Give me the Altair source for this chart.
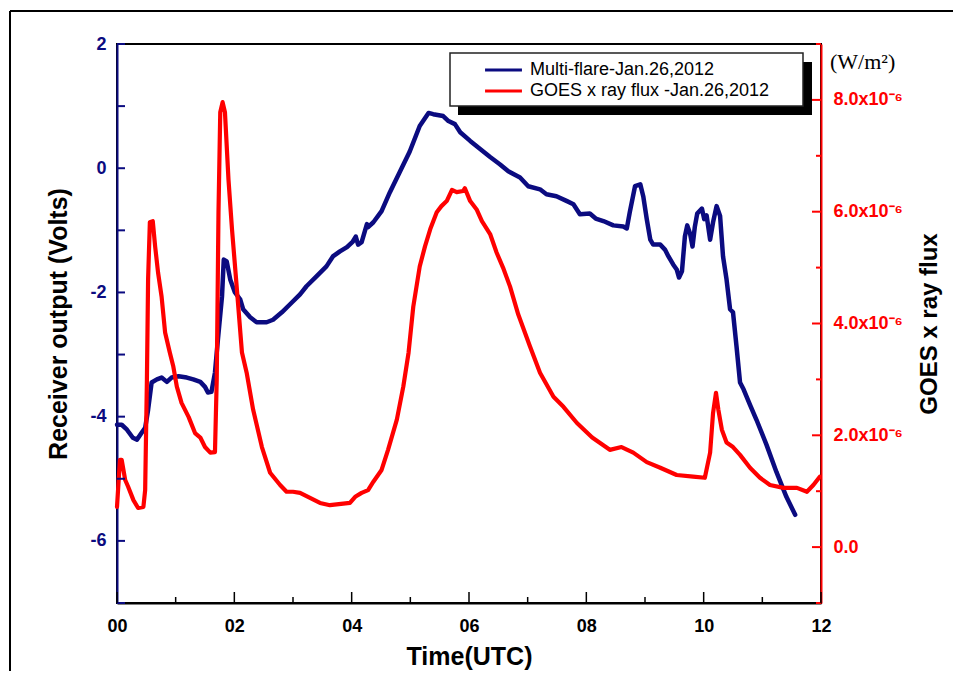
import altair as alt
import pandas as pd

# ---------------- data ----------------
# Receiver output (Volts) vs time (UTC hours)
blue_t = [0.00, 0.08, 0.17, 0.27, 0.34, 0.42, 0.48, 0.53, 0.59, 0.68,
          0.76, 0.85, 0.93, 1.05, 1.19, 1.30, 1.42, 1.50, 1.55, 1.61,
          1.67, 1.72, 1.79, 1.82, 1.87, 1.93, 2.01, 2.10, 2.15, 2.27,
          2.38, 2.55, 2.66, 2.81, 2.95, 3.12, 3.23, 3.40, 3.57, 3.68,
          3.80, 3.92, 4.02, 4.07, 4.11, 4.17, 4.26, 4.28, 4.37, 4.51,
          4.65, 4.82, 4.99, 5.16, 5.31, 5.39, 5.56, 5.65, 5.76, 5.85,
          6.02, 6.19, 6.36, 6.53, 6.67, 6.87, 7.01, 7.21, 7.32, 7.49,
          7.67, 7.78, 7.89, 8.06, 8.16, 8.29, 8.46, 8.63, 8.69, 8.74,
          8.83, 8.92, 8.97, 9.03, 9.09, 9.14, 9.26, 9.34, 9.40, 9.48,
          9.54, 9.58, 9.63, 9.68, 9.72, 9.77, 9.81, 9.85, 9.89, 9.97,
          10.01, 10.05, 10.11, 10.16, 10.22, 10.28, 10.33, 10.39, 10.45, 10.50,
          10.56, 10.62, 10.68, 10.79, 10.90, 11.07, 11.24, 11.41, 11.56]
blue_v = [-4.13, -4.13, -4.21, -4.34, -4.37, -4.26, -4.18, -3.89, -3.45, -3.40,
          -3.37, -3.44, -3.37, -3.35, -3.37, -3.40, -3.44, -3.52, -3.61, -3.60,
          -3.29, -2.76, -2.06, -1.47, -1.50, -1.79, -2.00, -2.11, -2.27, -2.40,
          -2.48, -2.48, -2.44, -2.32, -2.19, -2.03, -1.90, -1.74, -1.58, -1.42,
          -1.34, -1.27, -1.18, -1.10, -1.23, -1.19, -0.90, -0.95, -0.87, -0.69,
          -0.39, -0.06, 0.27, 0.68, 0.89, 0.87, 0.84, 0.76, 0.71, 0.58,
          0.44, 0.31, 0.18, 0.06, -0.05, -0.15, -0.29, -0.34, -0.42, -0.45,
          -0.53, -0.58, -0.74, -0.73, -0.81, -0.85, -0.92, -0.94, -0.97, -0.71,
          -0.29, -0.26, -0.45, -0.82, -1.15, -1.23, -1.23, -1.31, -1.42, -1.55,
          -1.63, -1.76, -1.66, -1.10, -0.92, -1.06, -1.26, -0.94, -0.73, -0.65,
          -0.82, -0.76, -1.15, -0.87, -0.61, -0.77, -1.42, -1.79, -2.27, -2.32,
          -2.87, -3.45, -3.56, -3.81, -4.05, -4.45, -4.89, -5.29, -5.58]

# GOES x ray flux, in units of 1e-6 W/m^2
red_t = [0.00, 0.05, 0.08, 0.14, 0.19, 0.28, 0.36, 0.45, 0.48, 0.51,
         0.53, 0.56, 0.61, 0.65, 0.70, 0.76, 0.82, 0.90, 0.96, 1.02,
         1.10, 1.22, 1.33, 1.42, 1.50, 1.59, 1.67, 1.70, 1.73, 1.76,
         1.80, 1.84, 1.90, 1.96, 2.04, 2.13, 2.21, 2.32, 2.47, 2.61,
         2.78, 2.89, 3.00, 3.12, 3.29, 3.46, 3.63, 3.97, 4.06, 4.17,
         4.28, 4.37, 4.51, 4.62, 4.77, 4.88, 4.97, 5.05, 5.16, 5.25,
         5.34, 5.45, 5.53, 5.62, 5.71, 5.79, 5.90, 5.93, 6.02, 6.13,
         6.22, 6.36, 6.47, 6.58, 6.70, 6.84, 7.04, 7.21, 7.44, 7.61,
         7.84, 8.10, 8.40, 8.60, 8.80, 9.03, 9.26, 9.54, 9.82, 10.02,
         10.11, 10.16, 10.21, 10.25, 10.31, 10.39, 10.50, 10.62, 10.79, 10.96,
         11.13, 11.36, 11.59, 11.76, 11.87, 11.98]
red_f = [0.72, 1.56, 1.56, 1.20, 1.08, 0.84, 0.70, 0.72, 1.02, 3.00,
         4.79, 5.81, 5.83, 5.38, 4.91, 4.48, 3.84, 3.48, 3.23, 2.87,
         2.58, 2.33, 2.04, 1.96, 1.79, 1.69, 1.70, 3.00, 5.99, 7.78,
         7.96, 7.78, 6.58, 5.69, 4.66, 3.48, 3.12, 2.46, 1.79, 1.33,
         1.11, 0.99, 0.99, 0.97, 0.88, 0.79, 0.75, 0.79, 0.90, 0.97,
         1.02, 1.17, 1.38, 1.74, 2.28, 2.87, 3.48, 4.30, 5.02, 5.38,
         5.69, 5.99, 6.10, 6.19, 6.39, 6.35, 6.37, 6.42, 6.19, 6.04,
         5.83, 5.60, 5.27, 5.00, 4.66, 4.16, 3.59, 3.12, 2.69, 2.51,
         2.22, 1.96, 1.74, 1.79, 1.69, 1.52, 1.42, 1.29, 1.26, 1.24,
         1.69, 2.40, 2.76, 2.46, 2.10, 1.87, 1.79, 1.65, 1.42, 1.24,
         1.11, 1.06, 1.06, 0.99, 1.11, 1.26]

x_major = [0, 2, 4, 6, 8, 10, 12]
x_minor = [1, 3, 5, 7, 9, 11]
volt_labels = [-6, -4, -2, 0, 2]
volt_ticks = [-7, -6, -5, -4, -3, -2, -1, 0, 1, 2]
flux_major = [0, 2, 4, 6, 8]
flux_minor = [-1, 1, 3, 5, 7, 9]

BLUE_NAME = "Multi-flare-Jan.26,2012"
RED_NAME = "GOES x ray flux -Jan.26,2012"
UNIT_TEXT = "(W/m²)"

# ---------------- styling ----------------
NAVY = "#0b0b80"
RED = "#ff0000"
W, H = 704, 559
SANS = "Liberation Sans, Arial, sans-serif"

blue_df = pd.DataFrame({"t": blue_t, "v": blue_v, "series": BLUE_NAME})
red_df = pd.DataFrame({"t": red_t, "f": red_f, "series": RED_NAME})
one = pd.DataFrame({"a": [0]})

xscale = alt.Scale(domain=[0, 12], nice=False, zero=False)
vscale = alt.Scale(domain=[-7, 2], nice=False, zero=False)
fscale = alt.Scale(domain=[-1, 9], nice=False, zero=False)
cscale = alt.Scale(domain=[BLUE_NAME, RED_NAME], range=[NAVY, RED])

legend = alt.Legend(
    title=None, orient="none", legendX=376, legendY=15.5, padding=0,
    symbolType="M-2.05,0H2.05", symbolSize=324, symbolStrokeWidth=3,
    labelFont=SANS, labelFontSize=18, labelColor="black",
    labelOffset=16, rowPadding=1, labelLimit=400,
)

x_axis = alt.Axis(
    orient="bottom", values=x_major,
    labelExpr="datum.value < 10 ? '0' + datum.value : '' + datum.value",
    ticks=False, tickSize=0, labelPadding=14, labelFlush=False, labelOverlap=False,
    labelFont=SANS, labelFontSize=18, labelFontWeight="bold", labelColor="black",
    domainColor="black", domainWidth=2, grid=False,
    title="Time(UTC)", titleFont=SANS, titleFontSize=25, titleFontWeight="bold",
    titleColor="black", titlePadding=9,
)

v_axis = alt.Axis(
    orient="left", values=volt_labels, labelExpr="'' + datum.value",
    ticks=False, tickSize=0, labelPadding=11, labelFlush=False, labelOverlap=False,
    labelFont=SANS, labelFontSize=18, labelFontWeight="bold", labelColor=NAVY,
    domainColor=NAVY, domainWidth=2, grid=False,
    title="Receiver output (Volts)", titleFont=SANS, titleFontSize=25,
    titleFontWeight="bold", titleColor="black", titlePadding=18,
)

f_axis = alt.Axis(
    orient="right", values=flux_major,
    labelExpr="datum.value == 0 ? '0.0' : format(datum.value, '.1f') + 'x10⁻⁶'",
    ticks=False, tickSize=0, labelPadding=12, labelFlush=False, labelOverlap=False,
    labelFont=SANS, labelFontSize=18, labelFontWeight="bold", labelColor=RED,
    domainColor=RED, domainWidth=2, grid=False,
    title="GOES x ray flux", titleFont=SANS, titleFontSize=24, titleFontWeight="bold",
    titleColor="black", titleAngle=270, titleBaseline="top", titlePadding=15,
)

blue = alt.Chart(blue_df).mark_line(strokeWidth=4.5, strokeJoin="round", strokeCap="round").encode(
    x=alt.X("t:Q", scale=xscale, axis=x_axis),
    y=alt.Y("v:Q", scale=vscale, axis=v_axis),
    color=alt.Color("series:N", scale=cscale, legend=legend),
)

red = alt.Chart(red_df).mark_line(strokeWidth=4.2, strokeJoin="round", strokeCap="round").encode(
    x=alt.X("t:Q", scale=xscale, axis=None),
    y=alt.Y("f:Q", scale=fscale, axis=f_axis),
    color=alt.Color("series:N", scale=cscale, legend=legend),
)

# inward-pointing tick marks, placed through the scales
v_ticks = alt.Chart(pd.DataFrame({"y": volt_ticks})).mark_rule(color=NAVY, strokeWidth=2).encode(
    y=alt.Y("y:Q", scale=vscale, axis=None), x=alt.value(0), x2=alt.value(8))
f_ticks_major = alt.Chart(pd.DataFrame({"y": flux_major})).mark_rule(color=RED, strokeWidth=2).encode(
    y=alt.Y("y:Q", scale=fscale, axis=None), x=alt.value(W), x2=alt.value(W - 9))
f_ticks_minor = alt.Chart(pd.DataFrame({"y": flux_minor})).mark_rule(color=RED, strokeWidth=2).encode(
    y=alt.Y("y:Q", scale=fscale, axis=None), x=alt.value(W), x2=alt.value(W - 5))
x_ticks_major = alt.Chart(pd.DataFrame({"x": x_major})).mark_rule(color="black", strokeWidth=1.5).encode(
    x=alt.X("x:Q", scale=xscale, axis=None), y=alt.value(H), y2=alt.value(H - 11))
x_ticks_minor = alt.Chart(pd.DataFrame({"x": x_minor})).mark_rule(color="black", strokeWidth=1.5).encode(
    x=alt.X("x:Q", scale=xscale, axis=None), y=alt.value(H), y2=alt.value(H - 6))

# outer frame (top and left edges) of the figure
frame_top = alt.Chart(one).mark_rule(color="black", strokeWidth=2).encode(
    x=alt.value(-107), x2=alt.value(836), y=alt.value(-33))
frame_left = alt.Chart(one).mark_rule(color="black", strokeWidth=2).encode(
    x=alt.value(-107), y=alt.value(-33), y2=alt.value(627))

# legend box with drop shadow
legend_shadow = alt.Chart(one).mark_rect(color="black").encode(
    x=alt.value(341), x2=alt.value(695), y=alt.value(18), y2=alt.value(71))
legend_box = alt.Chart(one).mark_rect(fill="white", stroke="#222222", strokeWidth=1.5).encode(
    x=alt.value(333), x2=alt.value(686), y=alt.value(9), y2=alt.value(62))

unit_text = alt.Chart(one).mark_text(
    text=UNIT_TEXT, font="Liberation Serif", fontSize=22, align="left",
    baseline="middle", color="black").encode(x=alt.value(713), y=alt.value(18))

chart = alt.layer(
    blue, red, v_ticks, f_ticks_minor, f_ticks_major, x_ticks_minor, x_ticks_major,
    frame_top, frame_left, legend_shadow, legend_box, unit_text,
).resolve_scale(
    y="independent"
).resolve_axis(
    x="independent", y="independent"
).properties(
    width=W, height=H,
    padding={"left": 109, "top": 36, "right": 132, "bottom": 70},
    autosize=alt.AutoSizeParams(type="none"),
    background="white",
).configure_view(
    stroke="black", strokeWidth=2
)

chart.save("out.html", embed_options={"renderer": "svg", "actions": False})
